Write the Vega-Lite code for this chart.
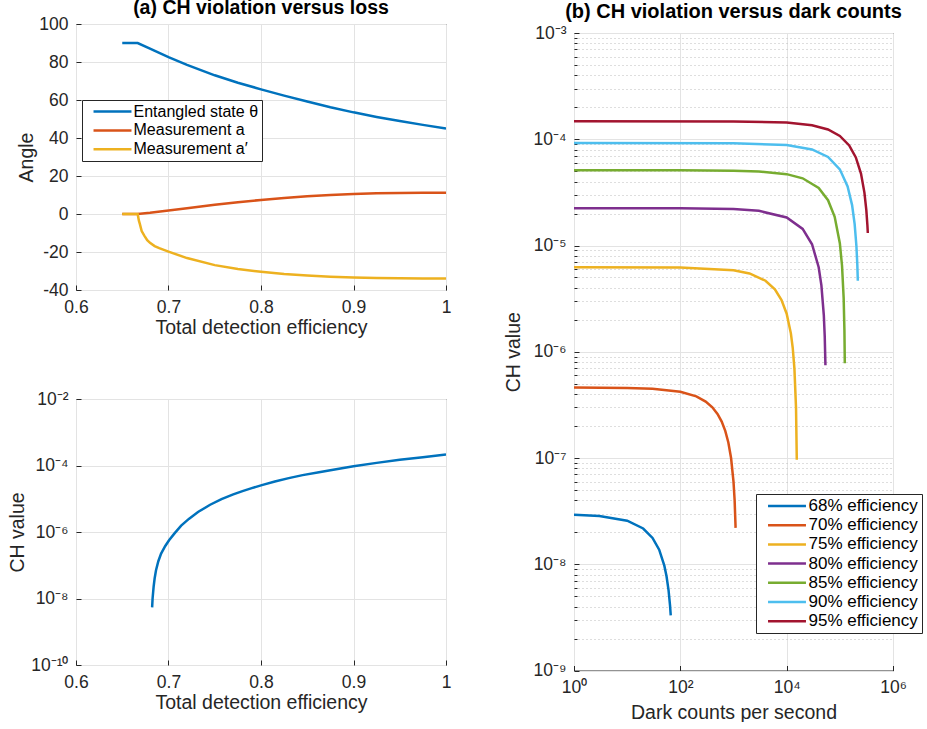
{
  "$schema": "https://vega.github.io/schema/vega-lite/v6.json",
  "padding": {"left": 7, "top": -3, "right": 0, "bottom": 0},
  "background": "white",
  "config": {
    "font": "Liberation Sans",
    "view": {"stroke": "#262626", "strokeWidth": 1},
    "axis": {
      "domain": false,
      "grid": true,
      "gridColor": "#e3e3e3",
      "tickColor": "#262626",
      "tickSize": -5,
      "labelFlush": false,
      "labelFont": "Liberation Sans",
      "labelFontSize": 17.5,
      "labelColor": "#262626",
      "labelPadding": 13,
      "titleFont": "Liberation Sans",
      "titleFontSize": 19.5,
      "titleFontWeight": "normal",
      "titleColor": "#262626"
    },
    "title": {"font": "Liberation Sans", "fontSize": 20, "fontWeight": "bold", "color": "#000000"},
    "legend": {
      "labelFont": "Liberation Sans",
      "labelColor": "#000000",
      "symbolType": "M-4,0H4",
      "symbolStrokeWidth": 2.5,
      "symbolSize": 90,
      "symbolOffset": 19,
      "labelOffset": 13,
      "strokeColor": "#262626",
      "fillColor": "white",
      "padding": 3.5,
      "rowPadding": 1.5
    }
  },
  "datasets": {
    "angles": [
      {"eff": 0.65, "angle": 90, "series": "Entangled state θ"},
      {"eff": 0.6667, "angle": 90, "series": "Entangled state θ"},
      {"eff": 0.68, "angle": 87.0, "series": "Entangled state θ"},
      {"eff": 0.69, "angle": 84.8, "series": "Entangled state θ"},
      {"eff": 0.70, "angle": 82.6, "series": "Entangled state θ"},
      {"eff": 0.72, "angle": 78.5, "series": "Entangled state θ"},
      {"eff": 0.75, "angle": 73.0, "series": "Entangled state θ"},
      {"eff": 0.775, "angle": 69.1, "series": "Entangled state θ"},
      {"eff": 0.80, "angle": 65.6, "series": "Entangled state θ"},
      {"eff": 0.825, "angle": 62.3, "series": "Entangled state θ"},
      {"eff": 0.85, "angle": 59.2, "series": "Entangled state θ"},
      {"eff": 0.875, "angle": 56.2, "series": "Entangled state θ"},
      {"eff": 0.90, "angle": 53.5, "series": "Entangled state θ"},
      {"eff": 0.925, "angle": 51.1, "series": "Entangled state θ"},
      {"eff": 0.95, "angle": 48.9, "series": "Entangled state θ"},
      {"eff": 0.975, "angle": 46.9, "series": "Entangled state θ"},
      {"eff": 1.0, "angle": 45.0, "series": "Entangled state θ"},
      {"eff": 0.65, "angle": 0, "series": "Measurement a"},
      {"eff": 0.6667, "angle": 0, "series": "Measurement a"},
      {"eff": 0.68, "angle": 0.6, "series": "Measurement a"},
      {"eff": 0.70, "angle": 1.8, "series": "Measurement a"},
      {"eff": 0.72, "angle": 3.0, "series": "Measurement a"},
      {"eff": 0.75, "angle": 4.9, "series": "Measurement a"},
      {"eff": 0.775, "angle": 6.2, "series": "Measurement a"},
      {"eff": 0.80, "angle": 7.4, "series": "Measurement a"},
      {"eff": 0.825, "angle": 8.4, "series": "Measurement a"},
      {"eff": 0.85, "angle": 9.3, "series": "Measurement a"},
      {"eff": 0.875, "angle": 10.0, "series": "Measurement a"},
      {"eff": 0.90, "angle": 10.5, "series": "Measurement a"},
      {"eff": 0.925, "angle": 10.9, "series": "Measurement a"},
      {"eff": 0.95, "angle": 11.1, "series": "Measurement a"},
      {"eff": 0.975, "angle": 11.2, "series": "Measurement a"},
      {"eff": 1.0, "angle": 11.25, "series": "Measurement a"},
      {"eff": 0.65, "angle": 0, "series": "Measurement a′"},
      {"eff": 0.6667, "angle": 0, "series": "Measurement a′"},
      {"eff": 0.6672, "angle": -1.5, "series": "Measurement a′"},
      {"eff": 0.668, "angle": -3.5, "series": "Measurement a′"},
      {"eff": 0.669, "angle": -5.2, "series": "Measurement a′"},
      {"eff": 0.671, "angle": -9.0, "series": "Measurement a′"},
      {"eff": 0.674, "angle": -11.5, "series": "Measurement a′"},
      {"eff": 0.677, "angle": -13.8, "series": "Measurement a′"},
      {"eff": 0.68, "angle": -15.2, "series": "Measurement a′"},
      {"eff": 0.685, "angle": -16.9, "series": "Measurement a′"},
      {"eff": 0.69, "angle": -18.0, "series": "Measurement a′"},
      {"eff": 0.70, "angle": -19.8, "series": "Measurement a′"},
      {"eff": 0.72, "angle": -23.2, "series": "Measurement a′"},
      {"eff": 0.75, "angle": -26.9, "series": "Measurement a′"},
      {"eff": 0.775, "angle": -29.0, "series": "Measurement a′"},
      {"eff": 0.80, "angle": -30.4, "series": "Measurement a′"},
      {"eff": 0.825, "angle": -31.6, "series": "Measurement a′"},
      {"eff": 0.85, "angle": -32.4, "series": "Measurement a′"},
      {"eff": 0.875, "angle": -33.0, "series": "Measurement a′"},
      {"eff": 0.90, "angle": -33.4, "series": "Measurement a′"},
      {"eff": 0.925, "angle": -33.7, "series": "Measurement a′"},
      {"eff": 0.95, "angle": -33.8, "series": "Measurement a′"},
      {"eff": 0.975, "angle": -33.9, "series": "Measurement a′"},
      {"eff": 1.0, "angle": -33.9, "series": "Measurement a′"}
    ],
    "chloss": [
      {"eff": 0.6823, "ch": 5.4e-9},
      {"eff": 0.6828, "ch": 1.0e-8},
      {"eff": 0.6839, "ch": 2.24e-8},
      {"eff": 0.685, "ch": 3.98e-8},
      {"eff": 0.6865, "ch": 7.08e-8},
      {"eff": 0.689, "ch": 1.32e-7},
      {"eff": 0.692, "ch": 2.24e-7},
      {"eff": 0.6965, "ch": 3.8e-7},
      {"eff": 0.7006, "ch": 5.62e-7},
      {"eff": 0.7065, "ch": 9.1e-7},
      {"eff": 0.7137, "ch": 1.55e-6},
      {"eff": 0.722, "ch": 2.48e-6},
      {"eff": 0.7319, "ch": 3.98e-6},
      {"eff": 0.745, "ch": 6.61e-6},
      {"eff": 0.7573, "ch": 9.8e-6},
      {"eff": 0.77, "ch": 1.35e-5},
      {"eff": 0.78, "ch": 1.7e-5},
      {"eff": 0.79, "ch": 2.09e-5},
      {"eff": 0.8009, "ch": 2.57e-5},
      {"eff": 0.815, "ch": 3.31e-5},
      {"eff": 0.83, "ch": 4.17e-5},
      {"eff": 0.845, "ch": 5.13e-5},
      {"eff": 0.8627, "ch": 6.31e-5},
      {"eff": 0.875, "ch": 7.24e-5},
      {"eff": 0.9, "ch": 9.5e-5},
      {"eff": 0.925, "ch": 1.2e-4},
      {"eff": 0.95, "ch": 1.48e-4},
      {"eff": 0.975, "ch": 1.78e-4},
      {"eff": 1.0, "ch": 2.14e-4}
    ],
    "dark": [
      {"dc": 1, "ch": 2.93e-8, "eff": "68% efficiency"},
      {"dc": 3, "ch": 2.85e-8, "eff": "68% efficiency"},
      {"dc": 10, "ch": 2.57e-8, "eff": "68% efficiency"},
      {"dc": 20, "ch": 2.17e-8, "eff": "68% efficiency"},
      {"dc": 30, "ch": 1.77e-8, "eff": "68% efficiency"},
      {"dc": 40, "ch": 1.37e-8, "eff": "68% efficiency"},
      {"dc": 50, "ch": 9.7e-9, "eff": "68% efficiency"},
      {"dc": 55, "ch": 7.7e-9, "eff": "68% efficiency"},
      {"dc": 60, "ch": 5.7e-9, "eff": "68% efficiency"},
      {"dc": 64, "ch": 4.1e-9, "eff": "68% efficiency"},
      {"dc": 66, "ch": 3.3e-9, "eff": "68% efficiency"},
      {"dc": 1, "ch": 4.6e-7, "eff": "70% efficiency"},
      {"dc": 10, "ch": 4.56e-7, "eff": "70% efficiency"},
      {"dc": 30, "ch": 4.48e-7, "eff": "70% efficiency"},
      {"dc": 100, "ch": 4.2e-7, "eff": "70% efficiency"},
      {"dc": 200, "ch": 3.8e-7, "eff": "70% efficiency"},
      {"dc": 300, "ch": 3.4e-7, "eff": "70% efficiency"},
      {"dc": 400, "ch": 3.0e-7, "eff": "70% efficiency"},
      {"dc": 500, "ch": 2.6e-7, "eff": "70% efficiency"},
      {"dc": 600, "ch": 2.2e-7, "eff": "70% efficiency"},
      {"dc": 700, "ch": 1.8e-7, "eff": "70% efficiency"},
      {"dc": 800, "ch": 1.4e-7, "eff": "70% efficiency"},
      {"dc": 900, "ch": 1.0e-7, "eff": "70% efficiency"},
      {"dc": 1000, "ch": 6.0e-8, "eff": "70% efficiency"},
      {"dc": 1050, "ch": 4.0e-8, "eff": "70% efficiency"},
      {"dc": 1095, "ch": 2.2e-8, "eff": "70% efficiency"},
      {"dc": 1, "ch": 6.25e-6, "eff": "75% efficiency"},
      {"dc": 100, "ch": 6.21e-6, "eff": "75% efficiency"},
      {"dc": 1000, "ch": 5.85e-6, "eff": "75% efficiency"},
      {"dc": 2000, "ch": 5.46e-6, "eff": "75% efficiency"},
      {"dc": 4000, "ch": 4.66e-6, "eff": "75% efficiency"},
      {"dc": 6000, "ch": 3.87e-6, "eff": "75% efficiency"},
      {"dc": 8000, "ch": 3.07e-6, "eff": "75% efficiency"},
      {"dc": 10000, "ch": 2.28e-6, "eff": "75% efficiency"},
      {"dc": 12000, "ch": 1.49e-6, "eff": "75% efficiency"},
      {"dc": 13000, "ch": 1.09e-6, "eff": "75% efficiency"},
      {"dc": 14000, "ch": 6.9e-7, "eff": "75% efficiency"},
      {"dc": 15000, "ch": 2.95e-7, "eff": "75% efficiency"},
      {"dc": 15500, "ch": 9.65e-8, "eff": "75% efficiency"},
      {"dc": 1, "ch": 2.24e-5, "eff": "80% efficiency"},
      {"dc": 100, "ch": 2.24e-5, "eff": "80% efficiency"},
      {"dc": 1000, "ch": 2.2e-5, "eff": "80% efficiency"},
      {"dc": 3000, "ch": 2.119e-5, "eff": "80% efficiency"},
      {"dc": 10000, "ch": 1.836e-5, "eff": "80% efficiency"},
      {"dc": 20000, "ch": 1.432e-5, "eff": "80% efficiency"},
      {"dc": 30000, "ch": 1.028e-5, "eff": "80% efficiency"},
      {"dc": 40000, "ch": 6.24e-6, "eff": "80% efficiency"},
      {"dc": 45000, "ch": 4.22e-6, "eff": "80% efficiency"},
      {"dc": 50000, "ch": 2.2e-6, "eff": "80% efficiency"},
      {"dc": 52000, "ch": 1.39e-6, "eff": "80% efficiency"},
      {"dc": 53600, "ch": 7.46e-7, "eff": "80% efficiency"},
      {"dc": 1, "ch": 5.1e-5, "eff": "85% efficiency"},
      {"dc": 100, "ch": 5.1e-5, "eff": "85% efficiency"},
      {"dc": 1000, "ch": 5.06e-5, "eff": "85% efficiency"},
      {"dc": 3000, "ch": 4.98e-5, "eff": "85% efficiency"},
      {"dc": 10000, "ch": 4.695e-5, "eff": "85% efficiency"},
      {"dc": 20000, "ch": 4.29e-5, "eff": "85% efficiency"},
      {"dc": 40000, "ch": 3.48e-5, "eff": "85% efficiency"},
      {"dc": 60000, "ch": 2.67e-5, "eff": "85% efficiency"},
      {"dc": 80000, "ch": 1.86e-5, "eff": "85% efficiency"},
      {"dc": 100000, "ch": 1.05e-5, "eff": "85% efficiency"},
      {"dc": 110000, "ch": 6.45e-6, "eff": "85% efficiency"},
      {"dc": 118000, "ch": 3.21e-6, "eff": "85% efficiency"},
      {"dc": 122000, "ch": 1.59e-6, "eff": "85% efficiency"},
      {"dc": 124000, "ch": 7.8e-7, "eff": "85% efficiency"},
      {"dc": 1, "ch": 9.23e-5, "eff": "90% efficiency"},
      {"dc": 1000, "ch": 9.19e-5, "eff": "90% efficiency"},
      {"dc": 10000, "ch": 8.83e-5, "eff": "90% efficiency"},
      {"dc": 30000, "ch": 8.02e-5, "eff": "90% efficiency"},
      {"dc": 60000, "ch": 6.82e-5, "eff": "90% efficiency"},
      {"dc": 100000, "ch": 5.21e-5, "eff": "90% efficiency"},
      {"dc": 140000, "ch": 3.6e-5, "eff": "90% efficiency"},
      {"dc": 170000, "ch": 2.4e-5, "eff": "90% efficiency"},
      {"dc": 190000, "ch": 1.59e-5, "eff": "90% efficiency"},
      {"dc": 205000, "ch": 9.89e-6, "eff": "90% efficiency"},
      {"dc": 213000, "ch": 6.67e-6, "eff": "90% efficiency"},
      {"dc": 218000, "ch": 4.66e-6, "eff": "90% efficiency"},
      {"dc": 1, "ch": 1.475e-4, "eff": "95% efficiency"},
      {"dc": 1000, "ch": 1.471e-4, "eff": "95% efficiency"},
      {"dc": 10000, "ch": 1.435e-4, "eff": "95% efficiency"},
      {"dc": 30000, "ch": 1.355e-4, "eff": "95% efficiency"},
      {"dc": 60000, "ch": 1.235e-4, "eff": "95% efficiency"},
      {"dc": 100000, "ch": 1.075e-4, "eff": "95% efficiency"},
      {"dc": 150000, "ch": 8.75e-5, "eff": "95% efficiency"},
      {"dc": 200000, "ch": 6.75e-5, "eff": "95% efficiency"},
      {"dc": 250000, "ch": 4.75e-5, "eff": "95% efficiency"},
      {"dc": 290000, "ch": 3.15e-5, "eff": "95% efficiency"},
      {"dc": 315000, "ch": 2.15e-5, "eff": "95% efficiency"},
      {"dc": 330000, "ch": 1.55e-5, "eff": "95% efficiency"},
      {"dc": 336000, "ch": 1.31e-5, "eff": "95% efficiency"}
    ]
  },
  "spacing": 50,
  "resolve": {"scale": {"color": "independent", "x": "independent", "y": "independent"}, "legend": {"color": "independent"}},
  "hconcat": [
    {
      "spacing": 109,
      "bounds": "flush",
      "resolve": {"scale": {"color": "independent", "x": "independent", "y": "independent"}},
      "vconcat": [
        {
          "width": 370,
          "height": 266,
          "title": {"text": "(a) CH violation versus loss", "frame": "group", "anchor": "middle", "baseline": "alphabetic", "offset": -18, "fontSize": 19.5},
          "data": {"name": "angles"},
          "mark": {"type": "line", "strokeWidth": 2.5, "clip": true},
          "encoding": {
            "x": {"field": "eff", "type": "quantitative", "scale": {"domain": [0.6, 1], "nice": false, "zero": false},
                  "axis": {"title": "Total detection efficiency", "values": [0.6, 0.7, 0.8, 0.9, 1], "labelExpr": "'' + datum.value", "titlePadding": 3}},
            "y": {"field": "angle", "type": "quantitative", "scale": {"domain": [-40, 100], "nice": false, "zero": false},
                  "axis": {"title": "Angle", "values": [-40, -20, 0, 20, 40, 60, 80, 100], "labelExpr": "'' + datum.value", "titlePadding": 2.5}},
            "color": {"field": "series", "type": "nominal",
                      "scale": {"domain": ["Entangled state θ", "Measurement a", "Measurement a′"], "range": ["#0072BD", "#D95319", "#EDB120"]},
                      "legend": {"title": null, "orient": "none", "legendX": 6, "legendY": 76, "labelFontSize": 16, "rowPadding": 2.9}}
          }
        },
        {
          "width": 370,
          "height": 266,
          "data": {"name": "chloss"},
          "mark": {"type": "line", "strokeWidth": 2.5, "color": "#0072BD", "clip": true},
          "encoding": {
            "x": {"field": "eff", "type": "quantitative", "scale": {"domain": [0.6, 1], "nice": false, "zero": false},
                  "axis": {"title": "Total detection efficiency", "values": [0.6, 0.7, 0.8, 0.9, 1], "labelExpr": "'' + datum.value", "titlePadding": 3}},
            "y": {"field": "ch", "type": "quantitative", "scale": {"type": "log", "domain": [1e-10, 1e-2], "nice": false},
                  "axis": {"title": "CH value", "values": [1e-10, 1e-8, 1e-6, 1e-4, 1e-2], "titlePadding": 3,
                           "labelExpr": "'10' + replace(replace(replace(replace(replace(replace(replace(replace(replace(replace(replace('' + round(log(datum.value)/LN10), '-', '⁻'), '0', '⁰'), '1', '¹'), '2', '²'), '3', '³'), '4', '⁴'), '5', '⁵'), '6', '⁶'), '7', '⁷'), '8', '⁸'), '9', '⁹')"}}
          }
        }
      ]
    },
    {
      "spacing": 0,
      "bounds": "flush",
      "vconcat": [
        {
          "width": 319,
          "height": 8.5,
          "view": {"stroke": null},
          "title": {"text": "(b) CH violation versus dark counts", "frame": "group", "anchor": "middle", "baseline": "alphabetic", "offset": -14},
          "data": {"values": [{"v": 0}]},
          "mark": {"type": "point", "opacity": 0},
          "encoding": {}
        },
        {
          "width": 319,
          "height": 637.5,
          "data": {"name": "dark"},
          "mark": {"type": "line", "strokeWidth": 2.5, "clip": true},
          "encoding": {
            "x": {"field": "dc", "type": "quantitative", "scale": {"type": "log", "domain": [1, 1000000], "nice": false},
                  "axis": {"title": "Dark counts per second", "values": [1, 100, 10000, 1000000], "titlePadding": 7,
                           "labelExpr": "'10' + replace(replace(replace(replace(replace(replace(replace(replace(replace(replace(replace('' + round(log(datum.value)/LN10), '-', '⁻'), '0', '⁰'), '1', '¹'), '2', '²'), '3', '³'), '4', '⁴'), '5', '⁵'), '6', '⁶'), '7', '⁷'), '8', '⁸'), '9', '⁹')"}},
            "y": {"field": "ch", "type": "quantitative", "scale": {"type": "log", "domain": [1e-9, 1e-3], "nice": false},
                  "axis": {"title": "CH value", "titlePadding": 10,
                           "values": [1e-9, 2e-9, 3e-9, 4e-9, 5e-9, 6e-9, 7e-9, 8e-9, 9e-9, 1e-8, 2e-8, 3e-8, 4e-8, 5e-8, 6e-8, 7e-8, 8e-8, 9e-8, 1e-7, 2e-7, 3e-7, 4e-7, 5e-7, 6e-7, 7e-7, 8e-7, 9e-7, 1e-6, 2e-6, 3e-6, 4e-6, 5e-6, 6e-6, 7e-6, 8e-6, 9e-6, 1e-5, 2e-5, 3e-5, 4e-5, 5e-5, 6e-5, 7e-5, 8e-5, 9e-5, 1e-4, 2e-4, 3e-4, 4e-4, 5e-4, 6e-4, 7e-4, 8e-4, 9e-4, 1e-3],
                           "gridColor": {"condition": {"test": "abs(log(datum.value)/LN10 - round(log(datum.value)/LN10)) < 0.001", "value": "#e3e3e3"}, "value": "#bdbdbd"},
                           "gridDash": {"condition": {"test": "abs(log(datum.value)/LN10 - round(log(datum.value)/LN10)) < 0.001", "value": []}, "value": [1, 3]},
                           "tickSize": {"condition": {"test": "abs(log(datum.value)/LN10 - round(log(datum.value)/LN10)) < 0.001", "value": -5}, "value": -3},
                           "labelExpr": "abs(log(datum.value)/LN10 - round(log(datum.value)/LN10)) < 0.001 ? '10' + replace(replace(replace(replace(replace(replace(replace(replace(replace(replace(replace('' + round(log(datum.value)/LN10), '-', '⁻'), '0', '⁰'), '1', '¹'), '2', '²'), '3', '³'), '4', '⁴'), '5', '⁵'), '6', '⁶'), '7', '⁷'), '8', '⁸'), '9', '⁹') : ''"}},
            "color": {"field": "eff", "type": "nominal",
                      "scale": {"domain": ["68% efficiency", "70% efficiency", "75% efficiency", "80% efficiency", "85% efficiency", "90% efficiency", "95% efficiency"],
                                "range": ["#0072BD", "#D95319", "#EDB120", "#7E2F8E", "#77AC30", "#4DBEEE", "#A2142F"]},
                      "legend": {"title": null, "orient": "none", "legendX": 182, "legendY": 470, "labelFontSize": 17, "rowPadding": 1.2}}
          }
        }
      ]
    }
  ]
}
